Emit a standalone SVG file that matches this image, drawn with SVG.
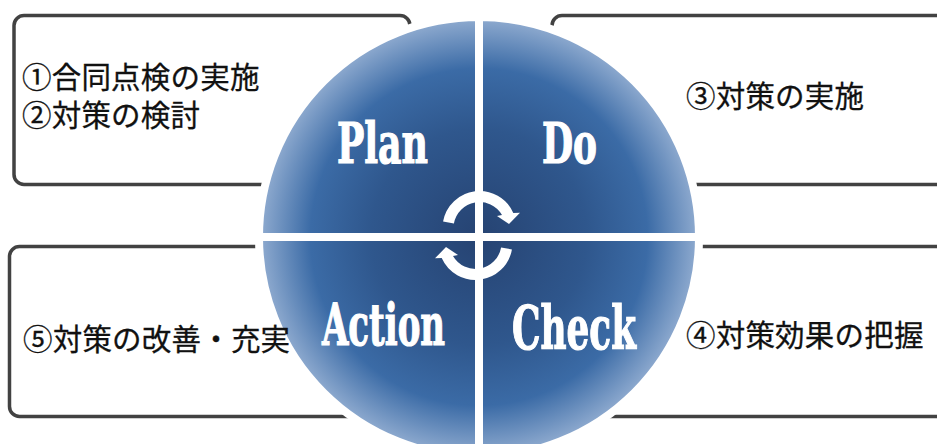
<svg xmlns="http://www.w3.org/2000/svg" width="937" height="444" viewBox="0 0 937 444">
  <defs>
    <radialGradient id="disc" gradientUnits="userSpaceOnUse" cx="479" cy="237" r="216">
      <stop offset="0" stop-color="#264372"/>
      <stop offset="0.5" stop-color="#2f578d"/>
      <stop offset="0.78" stop-color="#3b6ba6"/>
      <stop offset="1" stop-color="#8aa7cd"/>
    </radialGradient>
    <mask id="outside" maskUnits="userSpaceOnUse" x="0" y="0" width="937" height="444">
      <rect width="937" height="444" fill="#ffffff"/>
      <circle cx="479" cy="237" r="224" fill="#000000"/>
    </mask>
    <style>
      .box { fill: #ffffff; stroke: #424242; stroke-width: 3.5; }
      .quad { fill: url(#disc); stroke: #ffffff; stroke-width: 8; stroke-linejoin: miter; }
      .jp { font-family: "Noto Sans CJK JP", "Noto Sans", sans-serif; font-size: 29.5px; letter-spacing: 0.2px; fill: #111111; stroke: #111111; stroke-width: 0.3; }
      .en { font-family: "DejaVu Serif Condensed", "DejaVu Serif", serif; font-weight: bold; fill: #ffffff; stroke: #ffffff; stroke-width: 1.2; }
      .cyc { fill: #ffffff; }
    </style>
  </defs>
  <rect width="937" height="444" fill="#ffffff"/>

  <g id="quad-plan">
    <path class="quad" d="M479,237 L479,17 A220,220 0 0 0 259,237 Z"/>
    <text class="en" x="337" y="163" font-size="56" textLength="91" lengthAdjust="spacingAndGlyphs">Plan</text>
  </g>
  <g id="quad-do">
    <path class="quad" d="M479,237 L699,237 A220,220 0 0 0 479,17 Z"/>
    <text class="en" x="542" y="163" font-size="56" textLength="55" lengthAdjust="spacingAndGlyphs">Do</text>
  </g>
  <g id="quad-action">
    <path class="quad" d="M479,237 L259,237 A220,220 0 0 0 479,457 Z"/>
    <text class="en" x="322" y="345" font-size="58" textLength="123" lengthAdjust="spacingAndGlyphs">Action</text>
  </g>
  <g id="quad-check">
    <path class="quad" d="M479,237 L479,457 A220,220 0 0 0 699,237 Z"/>
    <text class="en" x="512" y="349" font-size="59" textLength="124" lengthAdjust="spacingAndGlyphs">Check</text>
  </g>

  <g id="box-plan">
    <rect class="box" x="14" y="15.5" width="396" height="169" rx="10" mask="url(#outside)"/>
    <text class="jp" x="22" y="88">①合同点検の実施</text>
    <text class="jp" x="22" y="126">②対策の検討</text>
  </g>
  <g id="box-do">
    <rect class="box" x="552" y="15.5" width="420" height="169" rx="10" mask="url(#outside)"/>
    <text class="jp" x="686" y="107">③対策の実施</text>
  </g>
  <g id="box-action">
    <rect class="box" x="9.5" y="246.5" width="420" height="170" rx="10" mask="url(#outside)"/>
    <text class="jp" x="23" y="350">⑤対策の改善・充実</text>
  </g>
  <g id="box-check">
    <rect class="box" x="520" y="246.5" width="450" height="170" rx="10" mask="url(#outside)"/>
    <text class="jp" x="686" y="346">④対策効果の把握</text>
  </g>

  <g id="connectors">
    <path id="cycle-top" class="cyc" d="M443.06,221.58 A37,37 0 0 1 513.3,213 L520,212.7 L509,224 L497,216 L502,215 A26,26 0 0 0 453.9,223.5 Z"/>
    <path id="cycle-bottom" class="cyc" transform="rotate(180 477.5 235.5)" d="M443.06,221.58 A37,37 0 0 1 513.3,213 L520,212.7 L509,224 L497,216 L502,215 A26,26 0 0 0 453.9,223.5 Z"/>
  </g>
</svg>
